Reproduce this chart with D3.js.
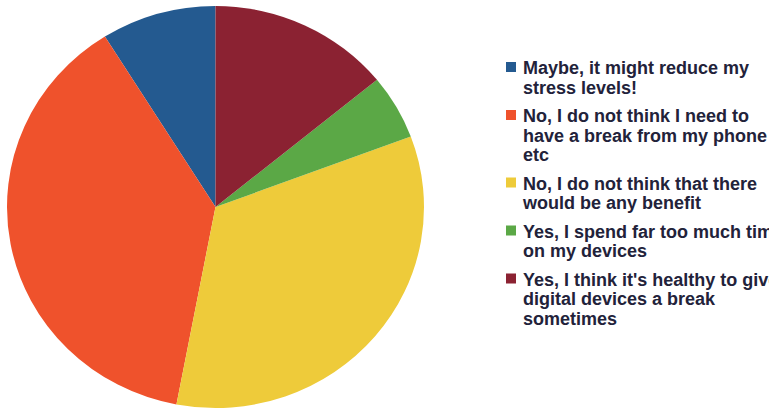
<!DOCTYPE html>
<html>
<head>
<meta charset="utf-8">
<script src="https://d3js.org/d3.v7.min.js"></script>
<style>
  body { margin: 0; background: #fff; overflow: hidden; }
  .legendText { font-family: "Liberation Sans", Arial, sans-serif; font-size: 18px; font-weight: bold; fill: #22223a; }
</style>
</head>
<body>
<div id="chart"></div>
<script>
// survey answers, in the order they appear in the legend
var answers = [
    ["Maybe, it might reduce my", "stress levels!"],
    ["No, I do not think I need to", "have a break from my phone", "etc"],
    ["No, I do not think that there", "would be any benefit"],
    ["Yes, I spend far too much time", "on my devices"],
    ["Yes, I think it's healthy to give", "digital devices a break", "sometimes"]
];
// share of responses per answer (%)
var shares = [8.9, 38.1, 33.7, 5.2, 14.1];
var colors = ["#245a90", "#ef522c", "#eecb3a", "#5ba846", "#8b2232"];

var svgWidth = 769;
var svgHeight = 410;

var svg = d3.select("#chart")
    .append("svg")
    .attr("width", svgWidth)
    .attr("height", svgHeight);

// the pie is a little wider than it is tall
var rx = 208.5;
var ry = 201;

var pieGroup = svg.append("g")
    .attr("transform", `translate(215.5, 207) scale(${rx / ry}, 1)`);

// slices go counter clockwise from 12 o'clock
var pie = d3.pie()
    .sort(null)
    .startAngle(0)
    .endAngle(-2 * Math.PI);

var arc = d3.arc()
    .innerRadius(0)
    .outerRadius(ry);

var color = d3.scaleOrdinal()
    .domain(d3.range(shares.length))
    .range(colors);

pieGroup.selectAll("path")
    .data(pie(shares))
    .enter()
    .append("path")
    .attr("d", arc)
    .attr("fill", (d, i) => color(i));

// legend
var lineHeight = 19.5;
var itemGap = 9;

var legend = svg.append("g")
    .attr("transform", "translate(506, 74)");

var y = 0;
answers.forEach(function(lines, i) {
    var item = legend.append("g")
        .attr("transform", `translate(0, ${y})`);

    item.append("rect")
        .attr("x", 0)
        .attr("y", -12)
        .attr("width", 10)
        .attr("height", 10)
        .attr("fill", color(i));

    item.selectAll("text")
        .data(lines)
        .enter()
        .append("text")
        .classed("legendText", true)
        .attr("x", 17)
        .attr("y", (d, j) => j * lineHeight)
        .text(d => d);

    y += lines.length * lineHeight + itemGap;
});
</script>
</body>
</html>
